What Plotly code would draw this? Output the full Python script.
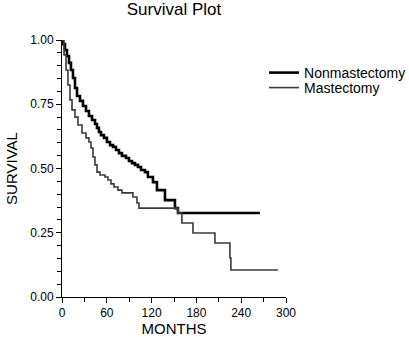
import plotly.graph_objects as go

# Kaplan-Meier step data
months_non = [0, 1.3, 4.0, 6.7, 9.4, 12.0, 14.7, 17.4, 20.1, 24.1, 28.1, 32.1, 36.1, 40.2,
              44.2, 46.9, 49.5, 52.2, 56.2, 60.2, 64.3, 68.3, 72.3, 76.3, 80.3, 85.7, 89.7,
              93.7, 97.7, 101.7, 105.8, 111.1, 115.1, 121.8, 127.2, 137.9, 151.3, 155.3, 265]
surv_non = [1.0, 0.984, 0.961, 0.938, 0.911, 0.883, 0.852, 0.813, 0.782, 0.763, 0.743, 0.724,
            0.704, 0.689, 0.673, 0.658, 0.642, 0.630, 0.619, 0.603, 0.591, 0.584, 0.572, 0.560,
            0.549, 0.541, 0.529, 0.521, 0.514, 0.506, 0.494, 0.486, 0.467, 0.447, 0.416, 0.377,
            0.346, 0.327, 0.327]

months_mas = [0, 2.7, 5.4, 8.0, 10.7, 13.4, 17.4, 21.4, 26.8, 32.1, 36.1, 38.8, 41.5, 44.2,
              46.9, 50.9, 57.6, 61.6, 65.6, 69.6, 75.0, 80.3, 95.0, 100.4, 103.1, 155.3, 160.6,
              175.4, 204.8, 224.9, 226.2, 289]
surv_mas = [1.0, 0.942, 0.883, 0.825, 0.767, 0.728, 0.700, 0.669, 0.638, 0.619, 0.603, 0.580,
            0.545, 0.514, 0.486, 0.475, 0.467, 0.455, 0.440, 0.428, 0.416, 0.405, 0.389, 0.366,
            0.346, 0.327, 0.288, 0.249, 0.210, 0.152, 0.105, 0.105]

x_ticks = [0, 60, 120, 180, 240, 300]
y_ticks = [0.0, 0.25, 0.5, 0.75, 1.0]

FONT = "Liberation Sans, Arial, Helvetica, sans-serif"

fig = go.Figure()
fig.add_trace(go.Scatter(x=months_non, y=surv_non, mode="lines", name="Nonmastectomy",
                         legend="legend",
                         line=dict(color="#000000", width=2.6, shape="hv")))
fig.add_trace(go.Scatter(x=months_mas, y=surv_mas, mode="lines", name="Mastectomy",
                         legend="legend2",
                         line=dict(color="#3a3a3a", width=1.6, shape="hv")))

leg_common = dict(xanchor="left", yanchor="middle", xref="paper", yref="paper",
                  font=dict(size=14, family=FONT, color="black"), bgcolor="rgba(0,0,0,0)",
                  itemwidth=30, borderwidth=0)

fig.update_layout(
    width=409, height=337,
    margin=dict(l=62, r=123, t=40, b=40, autoexpand=False),
    paper_bgcolor="white", plot_bgcolor="white",
    font=dict(family=FONT, color="black", size=12),
    title=dict(text="Survival Plot", font=dict(size=17, family=FONT, color="black"),
               x=0.5, xref="paper", xanchor="center", y=1 - 9 / 337, yref="container",
               yanchor="middle", pad=dict(t=0, b=0)),
    showlegend=True,
    legend=dict(x=0.902, y=(297 - 73) / 257, **leg_common),
    legend2=dict(x=0.902, y=(297 - 88) / 257, **leg_common),
    xaxis=dict(range=[0, 300], tickvals=x_ticks, ticks="outside", ticklen=5, tickwidth=1,
               tickcolor="black", showline=True, linecolor="black", linewidth=1,
               showgrid=False, zeroline=False, tickfont=dict(size=12), automargin=False,
               minor=dict(dtick=30, ticks="outside", ticklen=4, tickcolor="black", showgrid=False),
               title=dict(text="MONTHS", font=dict(size=15), standoff=0)),
    yaxis=dict(range=[0, 1], tickvals=y_ticks, tickformat=".2f", ticks="outside", ticklen=5,
               tickwidth=1, tickcolor="black", showline=True, linecolor="black", linewidth=1,
               showgrid=False, zeroline=False, tickfont=dict(size=12), automargin=False,
               minor=dict(dtick=0.05, ticks="outside", ticklen=4, tickcolor="black", showgrid=False),
               title=dict(text="SURVIVAL", font=dict(size=15), standoff=8)),
)

fig.write_html("out.html", config={"displayModeBar": False},
               post_script="document.body.style.margin='0';")
